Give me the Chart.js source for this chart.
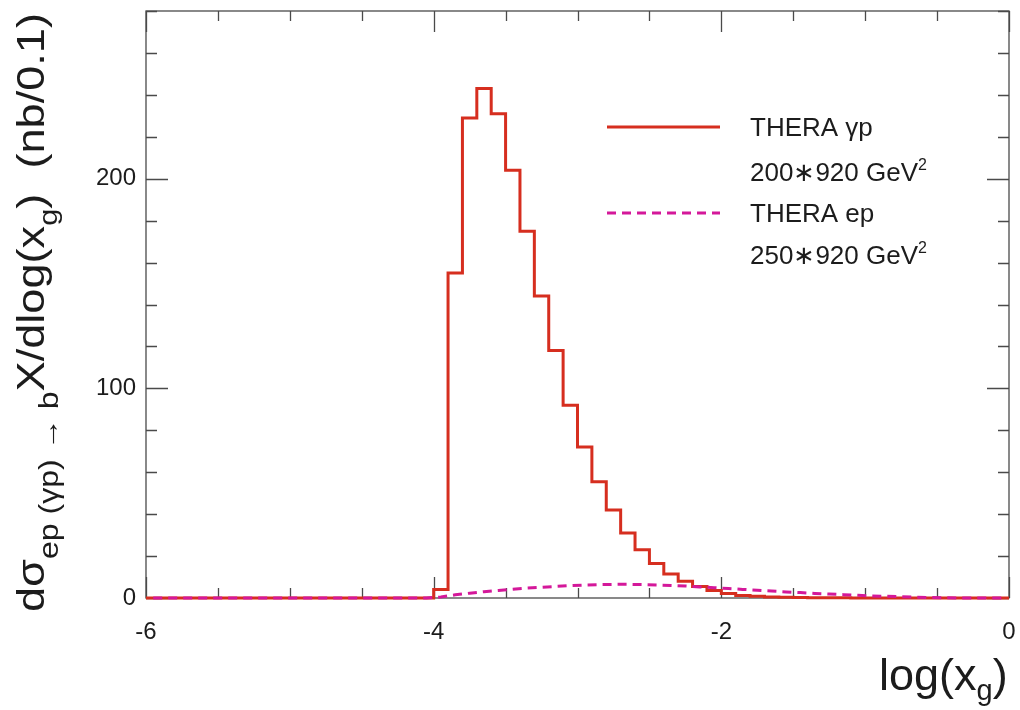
<!DOCTYPE html>
<html>
<head>
<meta charset="utf-8">
<script src="https://cdn.jsdelivr.net/npm/chart.js@4.4.1/dist/chart.umd.min.js"></script>
<style>
  html, body { margin: 0; padding: 0; background: #fff; }
  #wrap { width: 1020px; height: 710px; }
</style>
</head>
<body>
<div id="wrap"><canvas id="chart" width="1020" height="710"></canvas></div>
<script>
// bins of 0.1 in log(x_g), from -6 to 0
var binStart = -6, binWidth = 0.1, nBins = 60;

// THERA gamma-p histogram (nb/0.1), one value per bin, left to right
var gpValues = [
  0, 0, 0, 0, 0, 0, 0, 0, 0, 0,
  0, 0, 0, 0, 0, 0, 0, 0, 0, 0,
  4, 155, 229, 243, 231, 204, 175, 144, 118, 92,
  72, 55.5, 42, 31, 23, 16.5, 11.5, 8, 5.5, 3.6,
  2.1, 1.2, 0.8, 0.5, 0.3, 0.2, 0.1, 0.1, 0.1, 0.05,
  0, 0, 0, 0, 0, 0, 0, 0, 0, 0
];

// THERA e-p curve (nb/0.1), value at each bin centre
var epValues = [
  0, 0, 0, 0, 0, 0, 0, 0, 0, 0,
  0, 0, 0, 0, 0, 0, 0, 0, 0, 0,
  0.5, 1.5, 2.3, 3.0, 3.6, 4.2, 4.7, 5.1, 5.5, 5.9,
  6.2, 6.4, 6.5, 6.5, 6.4, 6.2, 6.0, 5.7, 5.3, 4.9,
  4.5, 4.1, 3.7, 3.3, 2.9, 2.6, 2.2, 1.9, 1.6, 1.3,
  1.0, 0.8, 0.6, 0.4, 0.2, 0.1, 0, 0, 0, 0
];

var xTickLabels = [-6, -4, -2, 0];
var yTickLabels = [0, 100, 200];

var legendRows = [
  { text: 'THERA \u03b3p', sup: null },
  { text: '200\u2217920 GeV', sup: '2' },
  { text: 'THERA ep', sup: null },
  { text: '250\u2217920 GeV', sup: '2' }
];

var RED = '#d62e1f', MAGENTA = '#d4189a', FRAME = '#4a4a4a', INK = '#1c1c1c';
var FONT = "'Liberation Sans', Arial, Helvetica, sans-serif";

var gpPoints = [];
for (var i = 0; i < nBins; i++) {
  gpPoints.push({ x: +(binStart + i * binWidth).toFixed(2), y: gpValues[i] });
}
gpPoints.push({ x: 0, y: gpValues[nBins - 1] });

var epPoints = [];
for (var j = 0; j < nBins; j++) {
  epPoints.push({ x: +(binStart + (j + 0.5) * binWidth).toFixed(2), y: epValues[j] });
}

// draw runs of text [str, size, shift] one after another along a baseline
function drawRuns(ctx, runs, x, y) {
  var cx = x;
  runs.forEach(function (r) {
    ctx.font = r[1] + 'px ' + FONT;
    ctx.fillText(r[0], cx, y + (r[2] || 0));
    cx += ctx.measureText(r[0]).width;
  });
  return cx - x;
}
function runsWidth(ctx, runs) {
  var w = 0;
  runs.forEach(function (r) { ctx.font = r[1] + 'px ' + FONT; w += ctx.measureText(r[0]).width; });
  return w;
}

var framePlugin = {
  id: 'frame',
  beforeDraw: function (chart) {
    var ctx = chart.ctx;
    ctx.save();
    ctx.fillStyle = '#fff';
    ctx.fillRect(0, 0, chart.width, chart.height);
    ctx.restore();
  },
  beforeDatasetsDraw: function (chart) {
    var ctx = chart.ctx, a = chart.chartArea;
    var xs = chart.scales.x, ys = chart.scales.y;
    ctx.save();
    ctx.strokeStyle = FRAME;
    ctx.lineWidth = 1.3;
    ctx.strokeRect(a.left, a.top, a.right - a.left, a.bottom - a.top);
    ctx.beginPath();
    for (var v = xs.min; v <= xs.max + 1e-9; v += 0.5) {
      var px = Math.round(xs.getPixelForValue(v)) + 0.5;
      var len = (Math.abs(v % 2) < 1e-6) ? 21 : 10;
      ctx.moveTo(px, a.bottom); ctx.lineTo(px, a.bottom - len);
      ctx.moveTo(px, a.top); ctx.lineTo(px, a.top + len);
    }
    for (var w = ys.min; w <= ys.max + 1e-9; w += 20) {
      var py = Math.round(ys.getPixelForValue(w)) + 0.5;
      var l2 = (w % 100 === 0) ? 22 : 11;
      ctx.moveTo(a.left, py); ctx.lineTo(a.left + l2, py);
      ctx.moveTo(a.right, py); ctx.lineTo(a.right - l2, py);
    }
    ctx.stroke();
    ctx.restore();
  },
  afterDraw: function (chart) {
    var ctx = chart.ctx;
    ctx.save();
    ctx.fillStyle = INK;
    ctx.textBaseline = 'alphabetic';

    // legend
    var lx0 = 607, lx1 = 720, tx = 750;
    var rowY = [127, 172, 213, 255];
    ctx.lineWidth = 3;
    ctx.strokeStyle = RED;
    ctx.beginPath(); ctx.moveTo(lx0, rowY[0]); ctx.lineTo(lx1, rowY[0]); ctx.stroke();
    ctx.strokeStyle = MAGENTA;
    ctx.setLineDash([9, 6]);
    ctx.beginPath(); ctx.moveTo(lx0, rowY[2]); ctx.lineTo(lx1, rowY[2]); ctx.stroke();
    ctx.setLineDash([]);
    legendRows.forEach(function (row, k) {
      var runs = [[row.text, 26, 0]];
      if (row.sup) runs.push([row.sup, 16, -11]);
      drawRuns(ctx, runs, tx, rowY[k] + 9);
    });

    // x title
    drawRuns(ctx, [['log(x', 45, 0], ['g', 29, 10], [')', 45, 0]], 879, 690);

    // y title, rotated, stretched along the text to run from y=612 up to y=13
    var yRuns = [
      ['d\u03c3', 38, 0], ['ep (\u03b3p) \u2192 b', 27, 14],
      ['X/dlog(x', 38, 0], ['g', 26, 13], [')  (nb/0.1)', 38, 0]
    ];
    var tw = runsWidth(ctx, yRuns);
    var span = 612 - 13;
    ctx.translate(44, 612);
    ctx.rotate(-Math.PI / 2);
    ctx.scale(span / tw, 1);
    drawRuns(ctx, yRuns, 0, 0);
    ctx.restore();
  }
};

var ctx = document.getElementById('chart').getContext('2d');
var myChart = new Chart(ctx, {
  type: 'line',
  data: {
    datasets: [{
      label: 'THERA ep',
      data: epPoints,
      borderColor: MAGENTA,
      borderWidth: 3,
      borderDash: [9, 6],
      pointRadius: 0,
      fill: false,
      clip: false,
      order: 0
    }, {
      label: 'THERA \u03b3p',
      data: gpPoints,
      stepped: 'before',
      borderColor: RED,
      borderWidth: 3,
      pointRadius: 0,
      fill: false,
      clip: false,
      order: 1
    }]
  },
  options: {
    responsive: false,
    animation: false,
    layout: { padding: { top: 11, right: 11, left: 0, bottom: 0 } },
    plugins: { legend: { display: false }, tooltip: { enabled: false } },
    scales: {
      x: {
        type: 'linear', min: -6, max: 0,
        grid: { display: false, drawTicks: false },
        border: { display: false },
        afterFit: function (s) { s.height = 112; s.paddingLeft = 0; s.paddingRight = 0; },
        ticks: {
          stepSize: 0.5, padding: 20, color: INK, maxRotation: 0, autoSkip: false,
          font: { family: FONT, size: 24 },
          callback: function (v) { return xTickLabels.indexOf(v) >= 0 ? String(v) : ''; }
        }
      },
      y: {
        min: 0, max: 280,
        grid: { display: false, drawTicks: false },
        border: { display: false },
        afterFit: function (s) { s.width = 146; s.paddingTop = 0; s.paddingBottom = 0; },
        ticks: {
          stepSize: 20, padding: 10, color: INK, autoSkip: false,
          font: { family: FONT, size: 24 },
          callback: function (v) { return yTickLabels.indexOf(v) >= 0 ? String(v) : ''; }
        }
      }
    }
  },
  plugins: [framePlugin]
});
</script>
</body>
</html>
